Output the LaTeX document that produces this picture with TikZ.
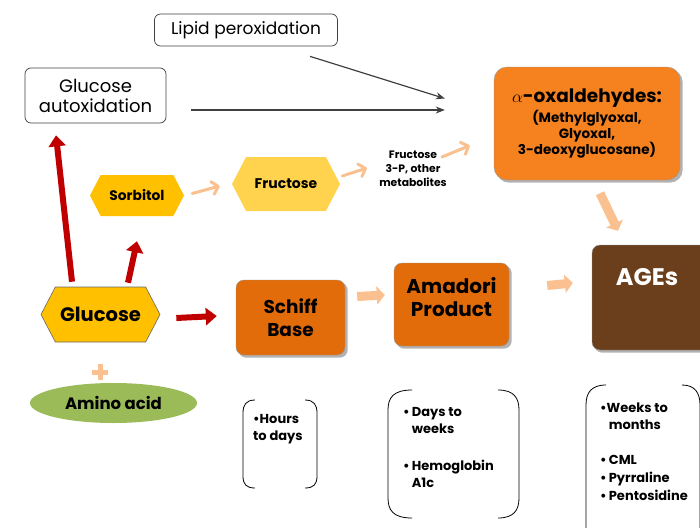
\documentclass[tikz,border=0pt]{standalone}
\usepackage{fontspec}
\setmainfont{Poppins}
\usetikzlibrary{shapes.geometric,shapes.symbols,arrows.meta,backgrounds,calc}
\definecolor{peach}{HTML}{FAC090}
\definecolor{darkred}{HTML}{C00000}
\definecolor{orangeA}{HTML}{F5821F}
\definecolor{orangeB}{HTML}{E36C0A}
\definecolor{brownA}{HTML}{6B3F1C}
\definecolor{gold}{HTML}{FFC000}
\definecolor{lightgold}{HTML}{FFD34E}
\definecolor{olive}{HTML}{9BBB59}
\definecolor{arrgray}{HTML}{404040}
\tikzset{
  fs/.style n args={2}{font=\fontsize{#1}{#2}\selectfont\bfseries},
  graybox/.style={draw=arrgray, line width=0.7pt, rounded corners=6pt, fill=white, align=center},
  hexa/.style={signal, signal to=east and west, signal pointer angle=125, inner sep=0pt, align=center},
  orbox/.style={rounded corners=8pt, draw=black!40, line width=0.4pt, align=center},
  shadowfill/.style={fill=black!30, rounded corners=8pt},
  redarrow/.style={draw=darkred, line width=6pt, -{Triangle[length=11pt,width=17pt]}},
  thinpeach/.style={draw=peach, line width=3pt, line cap=round, -{Straight Barb[length=6pt,width=13pt,round]}},
  blockpeach/.style={draw=peach, line width=9pt, -{Triangle[length=8pt,width=18pt]}},
  grayarrow/.style={draw=arrgray, line width=1.2pt, -{Stealth[length=9pt,width=7pt]}},
  bracket/.style={draw=black, line width=0.8pt},
  btext/.style={align=left, anchor=north west, inner sep=0pt, font=\fontsize{13}{17}\selectfont\bfseries}
}
\begin{document}
\begin{tikzpicture}[x=1pt,y=-1pt]
\useasboundingbox (0,0) rectangle (700,527);

% top boxes
\node[graybox, minimum width=183pt, minimum height=32pt, font=\fontsize{17}{20}\selectfont] (lipid) at (246,30) {Lipid peroxidation};
\node[graybox, minimum width=141pt, minimum height=55pt, font=\fontsize{18}{20}\selectfont] (autox) at (95.5,95.5) {Glucose\\autoxidation};

% alpha-oxaldehydes
\node[orbox, fill=orangeA, rounded corners=13pt, minimum width=186pt, minimum height=113pt, fs={13.5}{16}] (alpha) at (587,123.5)
  {{\fontsize{18.5}{20}\selectfont $\alpha$-oxaldehydes:}\\[1pt]
   (Methylglyoxal,\\Glyoxal,\\3-deoxyglucosane)};

% hexagons
\node[hexa, fill=gold, minimum width=94pt, minimum height=41pt, fs={13.8}{15}] (sorbitol) at (137,195.5) {Sorbitol};
\node[hexa, fill=lightgold, minimum width=108pt, minimum height=54pt, fs={14}{16}] (fructose) at (286,184) {Fructose};
\node[hexa, fill=gold, draw=black!60, line width=0.6pt, minimum width=119pt, minimum height=55pt, fs={19.5}{22}] (glucose) at (100.5,314.5) {Glucose};

\node[align=center, font=\fontsize{10.8}{14}\selectfont\bfseries] (f3p) at (413,169) {Fructose\\3-P, other\\metabolites};

% orange boxes
\node[orbox, fill=orangeB, minimum width=109pt, minimum height=75pt, fs={18.5}{23}] (schiff) at (290.5,317.5) {Schiff\\Base};
\node[orbox, fill=orangeB, minimum width=115pt, minimum height=83pt, fs={20}{23}, text depth=15pt] (amadori) at (451.5,304.5) {Amadori\\Product};
\node[orbox, fill=brownA, minimum width=118pt, minimum height=105pt] (ages) at (651,297.5) {};
\node[fs={24}{26}, text=white] (agest) at (647,277) {AGEs};

\begin{scope}[on background layer]
  \fill[shadowfill, rounded corners=13pt] ($(alpha.south west)+(2.5,2.5)$) rectangle ($(alpha.north east)+(2.5,2.5)$);
  \fill[shadowfill] ($(schiff.south west)+(2.5,2.5)$) rectangle ($(schiff.north east)+(2.5,2.5)$);
  \fill[shadowfill] ($(amadori.south west)+(2.5,2.5)$) rectangle ($(amadori.north east)+(2.5,2.5)$);
  \fill[shadowfill] ($(ages.south west)+(2.5,2.5)$) rectangle ($(ages.north east)+(2.5,2.5)$);
\end{scope}

% amino acid
\node[ellipse, fill=olive, minimum width=167pt, minimum height=40pt, inner sep=0pt, fs={16.5}{18}] (amino) at (113.5,403) {Amino acid};
\fill[peach] (92,369.5) rectangle (108,374.5);
\fill[peach] (97.5,364) rectangle (102.5,380);

% gray arrows
\draw[grayarrow] ($(lipid.south)+(64,10)$) -- ($(alpha.west)+(-49,-25)$);
\draw[grayarrow] ($(autox.east)+(25,14.5)$) -- ($(alpha.west)+(-49,-13.5)$);

% red arrows
\draw[redarrow] ($(glucose.north)+(-28.5,-5)$) -- ($(autox.south)+(-39.5,12)$);
\draw[redarrow] ($(glucose.north)+(27.5,-4)$) -- ($(sorbitol.south)+(0,25)$);
\draw[redarrow] ($(glucose.east)+(16,3.5)$) -- ($(schiff.west)+(-19,-1.5)$);

% peach arrows
\draw[thinpeach] ($(sorbitol.east)+(8,-2)$) -- ($(fructose.west)+(-12,2)$);
\draw[thinpeach] ($(fructose.east)+(2,-8)$) -- (367,168);
\draw[thinpeach] (442,157) -- ($(alpha.west)+(-24,22)$);
\draw[blockpeach] ($(schiff.east)+(12,-21)$) -- ($(amadori.west)+(-9,-9.5)$);
\draw[blockpeach] ($(amadori.east)+(38,-19)$) -- ($(ages.west)+(-19,-14.5)$);
\draw[blockpeach] ($(alpha.south)+(13,13)$) -- ($(ages.north)+(-33,-14)$);

% brackets
\draw[bracket] (255,400) .. controls (246,400) and (243,405) .. (243,413) -- (243,476) .. controls (243,484) and (246,488) .. (255,488);
\draw[bracket] (305,400) .. controls (314,400) and (317,405) .. (317,413) -- (317,476) .. controls (317,484) and (314,488) .. (305,488);
\node[btext] (b1) at (253,414) {\textbullet Hours\\to days};

\draw[bracket] (412,390) .. controls (393,390) and (388,398) .. (388,410) -- (388,498) .. controls (388,510) and (393,518) .. (412,518);
\draw[bracket] (498,390) .. controls (514,390) and (519,398) .. (519,410) -- (519,498) .. controls (519,510) and (514,518) .. (498,518);
\node[btext] (b2) at (403,407) {\textbullet\,Days to\\\hphantom{\textbullet\,}weeks\\[20pt]\textbullet\,Hemoglobin\\\hphantom{\textbullet\,}A1c};

\draw[bracket] (606,385) .. controls (591,385) and (586,393) .. (586,405) -- (586,540);
\draw[bracket] (682,385) .. controls (695,385) and (700,393) .. (700,405) -- (700,540);
\node[btext] (b3) at (600,402.5) {\textbullet Weeks to\\\hphantom{\textbullet\,}months\\[18pt]\textbullet\,CML\\[1pt]\textbullet\,Pyrraline\\[1pt]\textbullet\,Pentosidine};
\end{tikzpicture}
\end{document}
